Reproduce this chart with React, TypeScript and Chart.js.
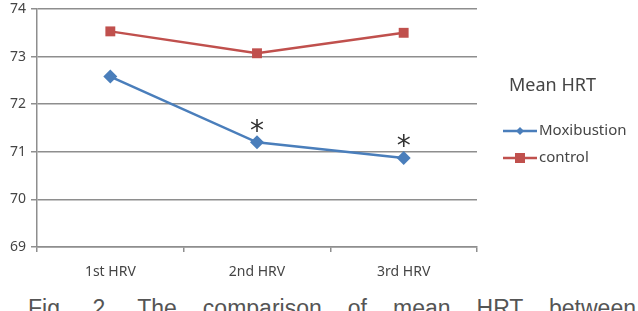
import React, { useEffect, useRef } from "react";
import { Chart, registerables } from "chart.js";

Chart.register(...registerables);

const categories = ["1st HRV", "2nd HRV", "3rd HRV"];
const moxibustion = [72.58, 71.2, 70.87];
const control = [73.53, 73.07, 73.5];
const significant = [false, true, true];
const legendTitle = "Mean HRT";
const caption = "Fig. 2. The comparison of mean HRT between";

const BLUE = "#4A7EBB";
const RED = "#C0504D";
const GRID = "#8E8E8E";
const TEXT = "#454545";
const FONT = "'Noto Sans', 'Open Sans', sans-serif";

const markersAndLegend = {
  id: "markersAndLegend",
  afterDatasetsDraw(chart: any) {
    const ctx = chart.ctx;
    const meta = chart.getDatasetMeta(0);
    ctx.save();
    // significance asterisks over the Moxibustion series
    ctx.fillStyle = "#333333";
    ctx.font = `28px 'DejaVu Sans', sans-serif`;
    ctx.textAlign = "center";
    ctx.textBaseline = "middle";
    meta.data.forEach((pt: any, i: number) => {
      if (significant[i]) ctx.fillText("*", pt.x, pt.y - 10);
    });

    // legend block on the right
    const lx = 503;
    ctx.textAlign = "left";
    ctx.fillStyle = TEXT;
    ctx.font = `18px ${FONT}`;
    ctx.fillText(legendTitle, 509, 86);
    const items = [
      { label: chart.data.datasets[0].label, color: BLUE, style: "rectRot", r: 4, y: 131 },
      { label: chart.data.datasets[1].label, color: RED, style: "rect", r: 5, y: 158 },
    ];
    ctx.font = `15px ${FONT}`;
    items.forEach((it) => {
      ctx.strokeStyle = it.color;
      ctx.lineWidth = 2.5;
      ctx.beginPath();
      ctx.moveTo(lx, it.y);
      ctx.lineTo(lx + 34, it.y);
      ctx.stroke();
      ctx.fillStyle = it.color;
      ctx.beginPath();
      if (it.style === "rect") {
        ctx.rect(lx + 17 - it.r, it.y - it.r, it.r * 2, it.r * 2);
      } else {
        ctx.moveTo(lx + 17, it.y - it.r);
        ctx.lineTo(lx + 17 + it.r, it.y);
        ctx.lineTo(lx + 17, it.y + it.r);
        ctx.lineTo(lx + 17 - it.r, it.y);
        ctx.closePath();
      }
      ctx.fill();
      ctx.fillStyle = TEXT;
      ctx.fillText(it.label, lx + 36, it.y);
    });
    ctx.restore();
  },
};

export default function App() {
  const canvasRef = useRef<HTMLCanvasElement>(null);

  useEffect(() => {
    if (!canvasRef.current) return;
    const chart = new Chart(canvasRef.current, {
      type: "line",
      data: {
        labels: categories,
        datasets: [
          {
            label: "Moxibustion",
            data: moxibustion,
            borderColor: BLUE,
            backgroundColor: BLUE,
            borderWidth: 2.5,
            pointStyle: "rectRot",
            pointRadius: 7,
            pointBorderWidth: 0,
            tension: 0,
          },
          {
            label: "control",
            data: control,
            borderColor: RED,
            backgroundColor: RED,
            borderWidth: 2.5,
            pointStyle: "rect",
            pointRadius: 7,
            pointBorderWidth: 0,
            tension: 0,
          },
        ],
      },
      options: {
        animation: false,
        responsive: false,
        maintainAspectRatio: false,
        layout: { padding: { top: 0, right: 161, left: 0, bottom: 0 } },
        plugins: {
          legend: { display: false },
          tooltip: { enabled: false },
        },
        scales: {
          x: {
            offset: true,
            grid: {
              display: true,
              offset: true,
              drawOnChartArea: false,
              drawTicks: true,
              tickLength: 5,
              color: GRID,
              lineWidth: 1.5,
            },
            border: { display: true, color: GRID, width: 1.5 },
            ticks: {
              color: TEXT,
              font: { family: FONT, size: 14 },
              padding: 12,
              maxRotation: 0,
            },
            afterFit: (scale: any) => {
              scale.height = 43;
              scale.paddingLeft = 0;
              scale.paddingRight = 0;
            },
          },
          y: {
            min: 69,
            max: 74,
            ticks: {
              stepSize: 1,
              color: TEXT,
              font: { family: FONT, size: 14 },
              padding: 5,
            },
            grid: {
              color: GRID,
              lineWidth: 1.5,
              tickLength: 6,
            },
            border: { display: true, color: GRID, width: 1.5 },
            afterFit: (scale: any) => {
              scale.width = 37;
              scale.paddingTop = 9;
              scale.paddingBottom = 0;
            },
          },
        },
      },
      plugins: [markersAndLegend],
    });
    return () => chart.destroy();
  }, []);

  return (
    <div
      style={{
        position: "fixed",
        left: 0,
        top: 0,
        width: 638,
        height: 311,
        overflow: "hidden",
        background: "#ffffff",
      }}
    >
      <canvas ref={canvasRef} width={638} height={290} style={{ display: "block" }} />
      <div
        style={{
          position: "absolute",
          left: 28,
          top: 296,
          width: 608,
          fontFamily: "'Liberation Sans', Arial, sans-serif",
          fontSize: 23,
          lineHeight: "24px",
          color: "#555555",
          whiteSpace: "nowrap",
          textAlign: "justify",
          textAlignLast: "justify",
        }}
      >
        {caption}
      </div>
    </div>
  );
}
